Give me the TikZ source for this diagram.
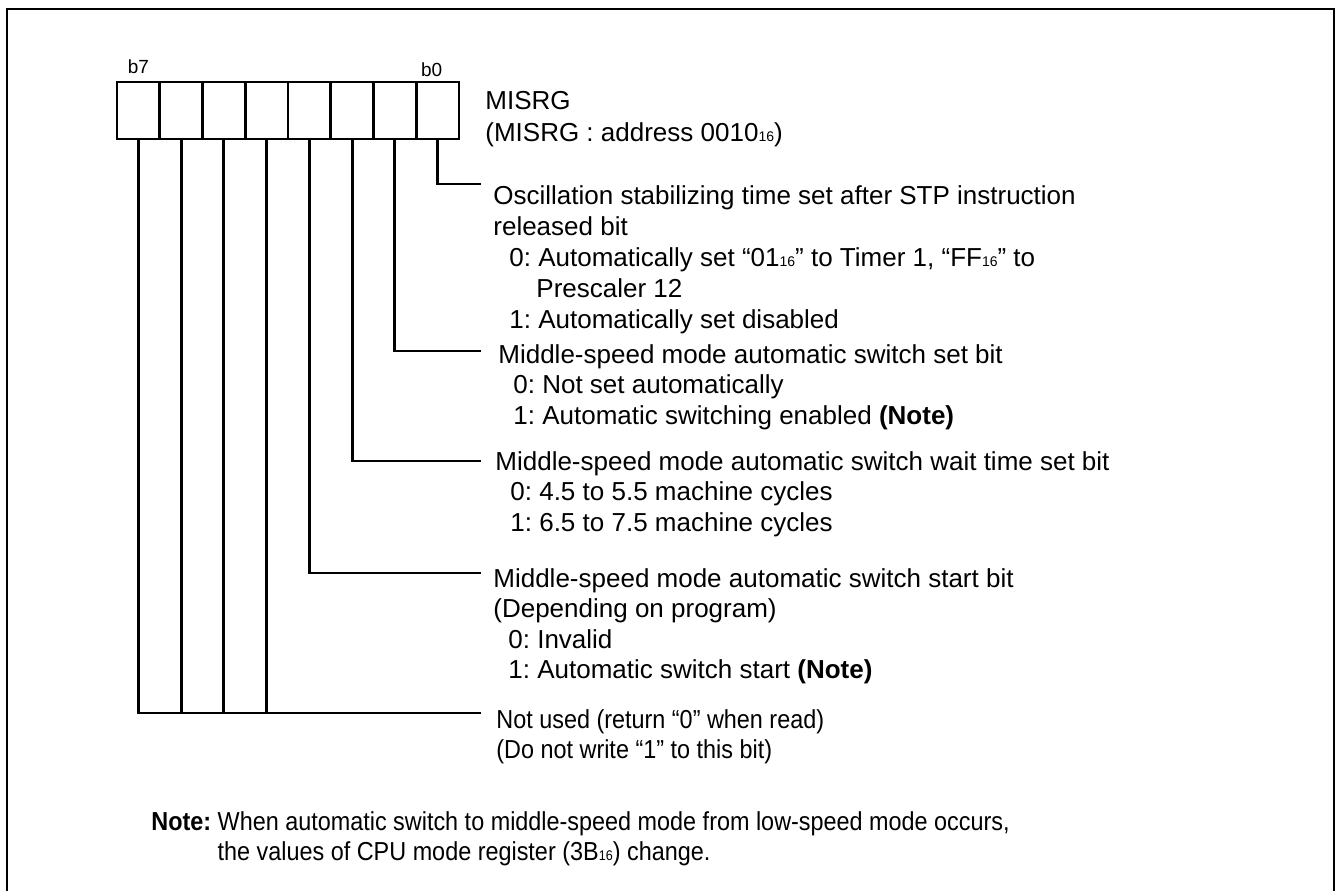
\documentclass[tikz,border=0pt]{standalone}
\usepackage{fontspec}
\setmainfont{Liberation Sans}
\newfontfamily\narrowfont[FakeStretch=0.9]{Liberation Sans}
\usetikzlibrary{positioning}
\newcommand{\hexsub}[1]{{\fontsize{7}{7}\selectfont #1}}
\frenchspacing

\begin{document}
\begin{tikzpicture}[x=0.5pt,y=-0.5pt,line width=1.4pt,
  cell/.style={draw,minimum width=21.375pt,minimum height=28.5pt,inner sep=0pt},
  bitlbl/.style={font=\fontsize{9.5}{9.5}\selectfont,inner sep=0pt},
  desc/.style={font=\fontsize{13}{15.25}\selectfont,align=left,anchor=north west,inner sep=0pt},
  narrowdesc/.style={desc,font=\fontsize{13}{15.25}\narrowfont}]
\useasboundingbox (0,0) rectangle (1337,891);
\draw (7,891) -- (7,9) -- (1334,9) -- (1334,891);

\foreach \i in {0,...,7}
  \node [cell] (b\i) at ({459-42.75*(\i+0.5)},110.5) {};

\node [bitlbl,above=3pt of b7] (lb7) {b7};
\node [bitlbl,above=1.5pt of b0,xshift=-3pt] (lb0) {b0};

\coordinate (e0) at (481,184);
\coordinate (e1) at (481,351);
\coordinate (e2) at (481,461);
\coordinate (e3) at (481,573);
\coordinate (e4) at (481,713);

\draw (b0.south) |- (e0);
\draw (b1.south) |- (e1);
\draw (b2.south) |- (e2);
\draw (b3.south) |- (e3);
\draw (b7.south) |- (e4);
\foreach \i in {4,5,6}
  \draw (b\i.south) -- (b\i.south |- e4);

\node [desc,font=\fontsize{13}{16}\selectfont] (reg) at (484,90) {MISRG\\(MISRG : address 0010\hexsub{16})};
\node [desc,font=\fontsize{13}{15.5}\selectfont] (osc) at (492,184) {Oscillation stabilizing time set after STP instruction\\released bit\\\hspace*{8pt}0: Automatically set “01\hexsub{16}” to Timer 1, “FF\hexsub{16}” to\\\hspace*{21.5pt}Prescaler 12\\\hspace*{8pt}1: Automatically set disabled};
\node [desc] (setb) at (497,343) {Middle-speed mode automatic switch set bit\\\hspace*{7.5pt}0: Not set automatically\\\hspace*{7.5pt}1: Automatic switching enabled \textbf{(Note)}};
\node [desc] (wait) at (494,450) {Middle-speed mode automatic switch wait time set bit\\\hspace*{7.5pt}0: 4.5 to 5.5 machine cycles\\\hspace*{7.5pt}1: 6.5 to 7.5 machine cycles};
\node [desc] (start) at (492,567) {Middle-speed mode automatic switch start bit\\(Depending on program)\\\hspace*{7.5pt}0: Invalid\\\hspace*{7.5pt}1: Automatic switch start \textbf{(Note)}};
\node [narrowdesc] (unused) at (495,708) {Not used (return “0” when read)\\(Do not write “1” to this bit)};
\node [narrowdesc] (note) at (150,810) {\textbf{Note:} When automatic switch to middle-speed mode from low-speed mode occurs,\\\hphantom{\textbf{Note:} }the values of CPU mode register (3B\hexsub{16}) change.};
\end{tikzpicture}
\end{document}
